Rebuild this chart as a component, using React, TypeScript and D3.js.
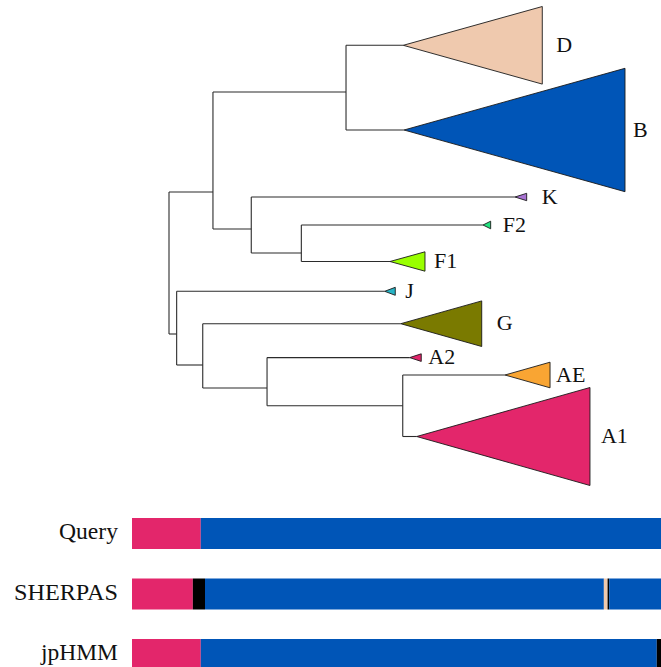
import React from "react";
import * as d3 from "d3";

// ---------- Tree data (root-to-node distances, vertical positions) ----------
const nodeIds = ["R", "N1", "N2", "D", "B", "N3", "K", "N4", "F2", "F1", "N5", "J", "N6", "G", "N7", "A2", "N8", "AE", "A1"];
const nodeParents = ["", "R", "N1", "N2", "N2", "N1", "N3", "N3", "N4", "N4", "R", "N5", "N5", "N6", "N6", "N7", "N7", "N8", "N8"];
const nodeDist = [0, 0.0482, 0.1941, 0.2569, 0.2577, 0.0902, 0.3794, 0.1451, 0.3443, 0.2423, 0.0084, 0.2365, 0.037, 0.2541, 0.1075, 0.2639, 0.2563, 0.3684, 0.2716];
const nodeY = [263, 192, 92, 45.3, 130, 229, 197, 253, 225, 261.5, 334, 291.3, 365, 323.7, 388, 357.6, 405.7, 375, 436.5];

// collapsed clades (leaves): tip distance and half spread
const cladeNames = ["D", "B", "K", "F2", "F1", "J", "G", "A2", "AE", "A1"];
const cladeTipDist = [0.4093, 0.5, 0.3922, 0.3527, 0.2807, 0.2481, 0.3429, 0.2766, 0.4178, 0.4616];
const cladeSpread = [38.8, 61.7, 3.7, 3.8, 9.7, 4, 22.8, 3.8, 12.8, 49];
const cladeColors = ["#efc9ae", "#0055b7", "#a873d2", "#22e27f", "#99ff00", "#27b4c6", "#7a7a00", "#e2256b", "#f9a533", "#e3266b"];

// ---------- Mosaic bars ----------
const tracks = ["Query", "SHERPAS", "jpHMM"];
const genomeLength = 1000;
const querySegments = [
  { start: 0, end: 130, subtype: "A1" },
  { start: 130, end: 1000, subtype: "B" },
];
const sherpasSegments = [
  { start: 0, end: 115, subtype: "A1" },
  { start: 115, end: 138, subtype: "unassigned" },
  { start: 138, end: 892, subtype: "B" },
  { start: 892, end: 899, subtype: "D" },
  { start: 899, end: 902, subtype: "unassigned" },
  { start: 902, end: 1000, subtype: "B" },
];
const jphmmSegments = [
  { start: 0, end: 130, subtype: "A1" },
  { start: 130, end: 992, subtype: "B" },
  { start: 992, end: 1000, subtype: "unassigned" },
];
const trackSegments = [querySegments, sherpasSegments, jphmmSegments];

// ---------- layout / style ----------
const W = 661;
const H = 667;
const FONT = "'Liberation Serif', 'Times New Roman', serif";
const labelGap: Record<string, number> = { D: 14, B: 8, K: 15, F2: 12, F1: 9, J: 10, G: 15, A2: 7, AE: 6, A1: 11 };
const trackLabelWidth = [59, 104, 77];
const barColor: Record<string, string> = { A1: "#e3266b", B: "#0055b7", D: "#efc9ae", unassigned: "#000000" };

export default function App() {
  const x = d3.scaleLinear().domain([0, 0.5]).range([169, 625]);
  const y = d3.scaleLinear().domain([0, 500]).range([0, 500]);

  const table = nodeIds.map((id, i) => ({ id, parent: nodeParents[i] || null, dist: nodeDist[i], y: nodeY[i] }));
  const root = d3
    .stratify<any>()
    .id((d) => d.id)
    .parentId((d) => d.parent)(table);

  const cladeIndex: Record<string, number> = {};
  cladeNames.forEach((n, i) => (cladeIndex[n] = i));

  const lines: any[] = [];
  const tris: any[] = [];
  const labels: any[] = [];

  root.each((node: any) => {
    const d = node.data;
    if (node.parent) {
      const p = node.parent.data;
      lines.push(
        <line key={"h" + d.id} x1={x(p.dist)} x2={x(d.dist)} y1={y(d.y)} y2={y(d.y)} stroke="#2b2b2b" strokeWidth={1.1} />
      );
    }
    if (node.children) {
      const ys = node.children.map((c: any) => c.data.y);
      lines.push(
        <line key={"v" + d.id} x1={x(d.dist)} x2={x(d.dist)} y1={y(d3.min(ys)!)} y2={y(d3.max(ys)!)} stroke="#2b2b2b" strokeWidth={1.1} />
      );
    } else {
      const ci = cladeIndex[d.id];
      const tip = x(cladeTipDist[ci]);
      const s = cladeSpread[ci];
      const pts: [number, number][] = [
        [x(d.dist), y(d.y)],
        [tip, y(d.y - s)],
        [tip, y(d.y + s)],
      ];
      tris.push(
        <path key={"t" + d.id} d={d3.line()(pts)! + "Z"} fill={cladeColors[ci]} stroke="#1a1a1a" strokeWidth={0.9} strokeLinejoin="miter" />
      );
      labels.push(
        <text key={"l" + d.id} x={tip + labelGap[d.id]} y={y(d.y) - 1} dominantBaseline="central" fontFamily={FONT} fontSize={22} fill="#111">
          {d.id}
        </text>
      );
    }
  });

  const gx = d3.scaleLinear().domain([0, genomeLength]).range([132, 661]);
  const band = d3.scaleBand().domain(tracks).range([503.25, 684.75]).paddingInner(0.4876).paddingOuter(0.2438);

  return (
    <svg width={W} height={H} style={{ position: "absolute", left: 0, top: 0, background: "#fff" }}>
      <g>{lines}</g>
      <g>{tris}</g>
      <g>{labels}</g>
      <g>
        {tracks.map((t, ti) => {
          const y0 = band(t)!;
          const bh = band.bandwidth();
          return (
            <g key={t}>
              <text
                x={118}
                y={y0 + bh / 2 - 2}
                textAnchor="end"
                dominantBaseline="central"
                fontFamily={FONT}
                fontSize={22.5}
                fill="#111"
                textLength={trackLabelWidth[ti]}
                lengthAdjust="spacingAndGlyphs"
              >
                {t}
              </text>
              {trackSegments[ti].map((s, si) => (
                <rect key={si} x={gx(s.start)} y={y0} width={gx(s.end) - gx(s.start)} height={bh} fill={barColor[s.subtype]} />
              ))}
            </g>
          );
        })}
      </g>
    </svg>
  );
}
